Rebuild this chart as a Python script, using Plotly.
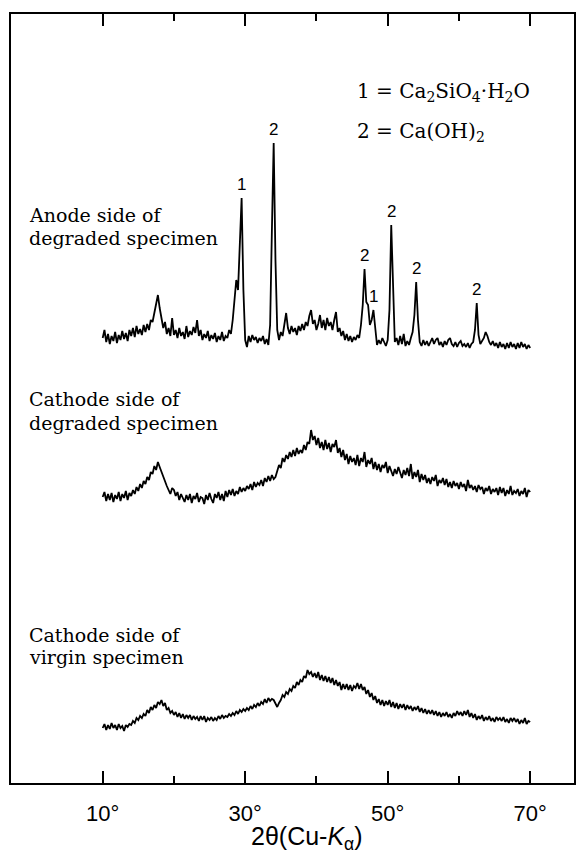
import plotly.graph_objects as go

# ---------------- data ----------------
# 2-theta scan grid, 10..70 deg in 0.25 deg steps
two_theta = [10 + 0.25 * i for i in range(241)]

anode_degraded = [
    12, 20, 8, 16, 6, 14, 9, 18,
    7, 15, 10, 19, 11, 17, 9, 20,
    14, 22, 13, 24, 16, 21, 15, 25,
    18, 26, 20, 30, 28, 38, 45, 55,
    42, 30, 22, 28, 16, 22, 14, 32,
    15, 20, 12, 22, 14, 18, 11, 24,
    13, 19, 15, 23, 17, 30, 14, 20,
    10, 16, 12, 19, 9, 15, 11, 17,
    8, 14, 10, 18, 9, 14, 12, 20,
    16, 30, 55, 70, 60, 110, 152, 60,
    10, 3, 14, 8, 15, 10, 13, 7,
    12, 9, 14, 6, 11, 5, 25, 120,
    207, 90, 20, 10, 18, 14, 28, 37,
    22, 16, 24, 18, 22, 15, 24, 19,
    26, 20, 28, 24, 34, 40, 26, 30,
    20, 26, 35, 22, 30, 20, 32, 24,
    28, 20, 30, 38, 18, 22, 14, 19,
    10, 16, 9, 14, 8, 13, 10, 15,
    12, 25, 45, 81, 48, 45, 25, 30,
    40, 18, 5, 10, 6, 12, 7, 4,
    10, 40, 125, 60, 8, 12, 5, 14,
    6, 16, 4, 9, 5, 12, 18, 35,
    68, 30, 8, 4, 10, 5, 9, 4,
    8, 12, 6, 10, 12, 5, 8, 3,
    9, 5, 10, 12, 6, 4, 8, 3,
    7, 9, 4, 6, 3, 7, 2, 6,
    8, 20, 47, 15, 6, 9, 12, 18,
    14, 8, 5, 9, 4, 7, 2, 8,
    3, 6, 1, 7, 2, 8, 3, 6,
    1, 7, 2, 8, 3, 6, 1, 5,
    2,
]

cathode_degraded = [
    3, 8, -1, 6, 0, 7, -2, 5,
    1, 8, -1, 6, 2, 9, 0, 7,
    4, 10, 6, 13, 9, 16, 12, 19,
    16, 23, 20, 28, 26, 34, 30, 38,
    33, 28, 22, 18, 14, 10, 6, 12,
    10, 4, 8, 0, 6, 2, -2, 5,
    0, 6, -3, 4, 1, 7, -2, 3,
    2, -4, 5, 0, 7, 1, -3, 6,
    2, 8, 0, 6, -1, 9, 3, 10,
    5, 11, 4, 9, 6, 13, 8, 12,
    9, 14, 11, 16, 10, 18, 13, 17,
    15, 20, 14, 22, 18, 24, 19, 25,
    21, 23, 30, 35, 32, 42, 38, 45,
    41, 48, 43, 50, 44, 52, 46, 50,
    47, 55, 50, 58, 56, 70, 60, 64,
    55, 62, 52, 58, 50, 60, 51, 57,
    48, 56, 53, 60, 47, 52, 43, 50,
    40, 46, 36, 44, 38, 42, 35, 45,
    34, 42, 38, 48, 33, 40, 36, 42,
    31, 38, 30, 36, 28, 35, 32, 38,
    27, 34, 29, 24, 31, 26, 33, 27,
    22, 30, 25, 32, 24, 36, 21, 28,
    23, 30, 18, 26, 20, 25, 17, 22,
    16, 23, 19, 25, 14, 20, 17, 22,
    15, 21, 13, 18, 12, 19, 14, 17,
    11, 18, 13, 16, 9, 20, 12, 15,
    10, 14, 8, 15, 11, 13, 6, 12,
    9, 14, 6, 11, 8, 12, 5, 13,
    7, 12, 4, 10, 6, 14, 5, 9,
    7, 11, 4, 9, 6, 12, 3, 10,
    8,
]

cathode_virgin = [
    2, 6, 0, 5, 1, 7, 2, 5,
    0, 6, 2, 4, -1, 5, 3, 6,
    5, 9, 7, 12, 10, 14, 12, 16,
    14, 20, 17, 23, 20, 25, 22, 28,
    26, 30, 24, 27, 20, 22, 17, 19,
    15, 18, 13, 17, 12, 16, 11, 15,
    12, 15, 10, 14, 11, 13, 9, 14,
    10, 14, 8, 12, 10, 13, 9, 12,
    10, 14, 11, 15, 12, 14, 13, 16,
    14, 17, 15, 19, 16, 20, 18, 21,
    19, 22, 20, 24, 21, 25, 23, 27,
    24, 28, 26, 31, 27, 32, 29, 31,
    30, 26, 23, 27, 30, 35, 33, 38,
    36, 41, 39, 44, 42, 48, 45, 50,
    48, 54, 52, 60, 56, 58, 53, 57,
    52, 58, 50, 55, 49, 54, 48, 53,
    47, 52, 45, 50, 44, 48, 40, 46,
    41, 46, 40, 45, 39, 44, 42, 47,
    41, 46, 40, 43, 36, 40, 33, 37,
    30, 34, 27, 31, 25, 30, 24, 29,
    25, 30, 23, 28, 22, 27, 21, 26,
    22, 26, 20, 25, 21, 24, 19, 23,
    20, 24, 18, 22, 17, 21, 16, 20,
    16, 20, 15, 19, 14, 18, 13, 17,
    14, 18, 13, 16, 12, 17, 14, 19,
    15, 18, 14, 19, 15, 20, 13, 17,
    12, 16, 10, 14, 11, 15, 9, 13,
    10, 14, 9, 12, 8, 13, 10, 12,
    9, 13, 8, 11, 7, 12, 9, 12,
    8, 11, 6, 10, 7, 12, 6, 9,
    8,
]

# peak assignments on the anode pattern (position in deg, phase label)
peak_pos = [29.5, 34.0, 46.75, 48.0, 50.5, 54.0, 62.5]
peak_lbl = ["1", "2", "2", "1", "2", "2", "2"]

tick_vals = [10, 30, 50, 70]
tick_text = ["10°", "30°", "50°", "70°"]
minor_vals = [20, 40, 60]

trace_labels = [("Anode side of", "degraded specimen"),
                ("Cathode side of", "degraded specimen"),
                ("Cathode side of", "virgin specimen")]

# ---------------- layout constants ----------------
W, H = 579, 855
L, R, T, B = 11, 3, 14, 72
PW, PH = W - L - R, H - T - B
OFFSETS = [433, 283, 53]        # vertical stacking offsets of the three patterns
X0, X1 = -2.867, 76.15
SERIF = "DejaVu Serif"
LABEL_Y = [(215, 238), (399, 423), (635, 657)]

series = [anode_degraded, cathode_degraded, cathode_virgin]

fig = go.Figure()
for vals, off, nm in zip(series, OFFSETS, trace_labels):
    fig.add_trace(go.Scatter(
        x=two_theta, y=[v + off for v in vals], mode="lines",
        line=dict(color="black", width=1.8), name=" ".join(nm),
        showlegend=False, hoverinfo="skip"))

def px_x(xp):
    return (xp - L) / PW

def px_y(yp):
    return (H - B - yp) / PH

annots = []
# peak labels
for p, lb in zip(peak_pos, peak_lbl):
    idx = two_theta.index(p)
    annots.append(dict(x=p, y=anode_degraded[idx] + OFFSETS[0], xref="x", yref="y",
                       text=lb, showarrow=False, yanchor="bottom", yshift=2,
                       font=dict(family="Liberation Sans Narrow, Liberation Sans", size=17, color="black")))

# specimen labels
for (l1, l2), (y1, y2) in zip(trace_labels, LABEL_Y):
    for txt, yp in ((l1, y1), (l2, y2)):
        annots.append(dict(x=px_x(27), y=px_y(yp), xref="paper", yref="paper",
                           text=txt, showarrow=False, xanchor="left", yanchor="middle",
                           font=dict(family=SERIF, size=19, color="black")))

# phase key
annots.append(dict(x=px_x(356), y=px_y(92), xref="paper", yref="paper",
                   text="1 = Ca<sub>2</sub>SiO<sub>4</sub>·H<sub>2</sub>O", showarrow=False,
                   xanchor="left", yanchor="middle",
                   font=dict(family=SERIF, size=20, color="black")))
annots.append(dict(x=px_x(356), y=px_y(132), xref="paper", yref="paper",
                   text="2 = Ca(OH)<sub>2</sub>", showarrow=False,
                   xanchor="left", yanchor="middle",
                   font=dict(family=SERIF, size=20, color="black")))

# axis title
annots.append(dict(x=px_x(308), y=px_y(838), xref="paper", yref="paper",
                   text="2θ(Cu-<i>K</i><sub>α</sub>)", showarrow=False,
                   xanchor="center", yanchor="middle",
                   font=dict(family="Liberation Sans", size=25, color="black")))

fig.update_layout(
    width=W, height=H,
    margin=dict(l=L, r=R, t=T, b=B, pad=0),
    paper_bgcolor="white", plot_bgcolor="white",
    annotations=annots,
    xaxis=dict(range=[X0, X1], showgrid=False, zeroline=False,
               showline=True, linecolor="black", linewidth=2, mirror="ticks",
               ticks="inside", ticklen=12, tickwidth=1.5, tickcolor="black",
               tickvals=tick_vals, ticktext=tick_text, ticklabelstandoff=10,
               tickfont=dict(family="Liberation Sans", size=22, color="black"),
               minor=dict(tickvals=minor_vals, ticks="inside", ticklen=7,
                          tickwidth=1.5, tickcolor="black", showgrid=False)),
    yaxis=dict(range=[0, PH], showgrid=False, zeroline=False, showticklabels=False,
               showline=True, linecolor="black", linewidth=1.5, mirror=True, ticks=""),
)

fig.write_html("out.html")
